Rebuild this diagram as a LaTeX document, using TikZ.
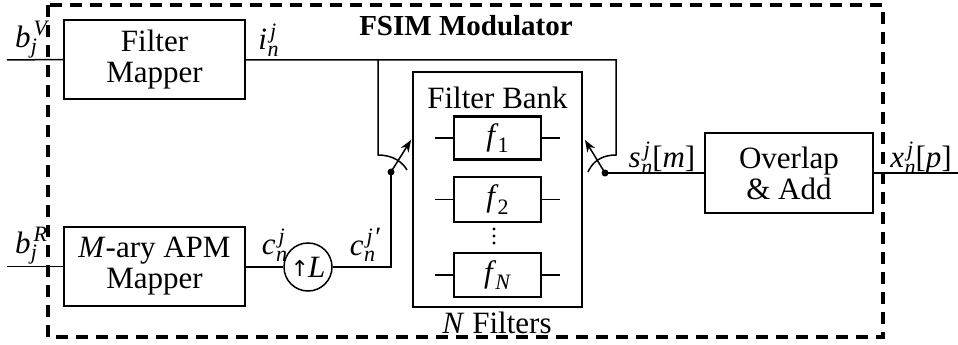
\documentclass[tikz,border=0pt]{standalone}
\usepackage{fontspec}
\setmainfont{Liberation Serif}
\newfontfamily\symfont{DejaVu Sans}
\usetikzlibrary{arrows.meta}
\newlength\supw
\newlength\subw
\newcommand{\ssc}[3]{\textit{#1}\kern0.5pt{\fontsize{22}{22}\selectfont\settowidth\supw{\kern2.5pt\textit{#3}}\settowidth\subw{\textit{#2}}\rlap{\kern2.5pt\raisebox{0.52em}{\textit{#3}}}\rlap{\raisebox{-0.3em}{\textit{#2}}}\ifdim\supw>\subw\hspace{\supw}\else\hspace{\subw}\fi}}
\newcommand{\fsub}[2]{\textit{#1}\kern-1pt\raisebox{-0.25em}{\fontsize{22}{22}\selectfont #2}}
\tikzset{
  blk/.style={draw, line width=2.4pt, minimum width=#1, inner sep=0pt, align=center, font=\fontsize{31}{33}\selectfont},
  wire/.style={line width=1.5pt},
  lbl/.style={inner sep=0pt, font=\fontsize{31}{33}\selectfont},
  frame/.style={line width=3.2pt, dash pattern=on 12pt off 8pt},
  sarm/.style={line width=1.5pt, -{Stealth[length=12pt,width=9pt]}},
  dotn/.style={circle, fill, inner sep=0pt, minimum size=7pt},
  vdot/.style={circle, fill, inner sep=0pt, minimum size=3.2pt}
}
\begin{document}
\begin{tikzpicture}[x=1pt,y=-1pt]
\useasboundingbox (0,0) rectangle (958,345);
% frame
\draw[frame] (48,5) rectangle (883,337);
% blocks
\node[blk=181pt, minimum height=79pt] (fm) at (154.5,59.5) {Filter\\[-2pt]Mapper};
\node[blk=181pt, minimum height=79pt] (apm) at (154.5,266.5) {\textit{M}-ary APM\\[-2pt]Mapper};
\node[draw, circle, line width=1.5pt, minimum size=48pt, inner sep=0pt, font=\fontsize{31}{33}\selectfont] (up) at (308,267) {{\symfont\fontsize{22}{22}\selectfont\raisebox{0.05em}{↑}}\kern-1pt\textit{L}};
\node[blk=169pt, minimum height=235pt] (fb) at (497.5,189.5) {};
\node[lbl] (fbt) at (497.5,98) {Filter Bank};
\node[blk=87pt, minimum height=43pt] (f1) at (497.5,138) {\fsub{f}{1}};
\node[blk=87pt, minimum height=45pt] (f2) at (497.5,199.5) {\fsub{f}{2}};
\node[blk=87pt, minimum height=44pt] (fN) at (497.5,275) {\fsub{f}{\textit{N}}};
\node[vdot] (d1) at (494,229) {};
\node[vdot] (d2) at (494,236) {};
\node[vdot] (d3) at (494,243) {};
\node[lbl] (nf) at (497,323) {\textit{N} Filters};
\node[blk=168pt, minimum height=80pt] (oa) at (789,173) {Overlap\\[-2pt]\&~Add};
\node[lbl, font=\fontsize{29}{31}\selectfont\bfseries] (title) at (466,26) {FSIM Modulator};
% labels
\node[lbl] (lbv) at (23,40) {\ssc{b}{j}{V}};
\node[lbl] (lbr) at (23,246) {\ssc{b}{j}{R}};
\node[lbl] (lin) at (263,40) {\ssc{i}{n}{j}};
\node[lbl] (lcn) at (269,245) {\ssc{c}{n}{j}};
\node[lbl] (lcnp) at (357,245) {\ssc{c}{n}{j\kern1pt{\fontsize{28}{28}\selectfont\raisebox{-0.1em}{′}}}};
\node[lbl] (lsn) at (662,158) {\ssc{s}{n}{j}[\textit{m}]};
\node[lbl] (lxn) at (921,158) {\ssc{x}{n}{j}[\textit{p}]};
% coordinates
\coordinate (inV) at (7,60);
\coordinate (inR) at (7,266.5);
\coordinate (tr) at (616,60);
\coordinate (rk) at (616,155);
\coordinate (lt) at (378,60);
\coordinate (lk) at (378,155);
\coordinate (la) at (407,170);
\coordinate (ra) at (588,172);
\coordinate (ltip) at (411,140);
\coordinate (rtip) at (585,140);
\coordinate (lc) at (391,267);
\coordinate (out) at (958,173);
\node[dotn] (ld) at (391,172) {};
\node[dotn] (rd) at (605,173) {};
% wires
\draw[wire] (inV) -- (fm.west);
\draw[wire] (inR) -- (apm.west);
\draw[wire] (fm.east |- inV) -- (tr) -- (rk) .. controls (600,155) and (592,163) .. (ra);
\draw[wire] (lt) -- (lk) .. controls (394,155) and (403,163) .. (la);
\draw[sarm] (ld.center) -- (ltip);
\draw[sarm] (rd.center) -- (rtip);
\draw[wire] (apm.east |- up) -- (up.west);
\draw[wire] (up.east) -- (lc) -- (ld.center);
\draw[wire] (rd.center) -- (oa.west);
\draw[wire] (oa.east) -- (out);
% filter stubs
\foreach \f in {f1,f2,fN}{
  \draw[wire] (\f.west) -- ++(-18,0);
  \draw[wire] (\f.east) -- ++(18,0);
}
\end{tikzpicture}
\end{document}
